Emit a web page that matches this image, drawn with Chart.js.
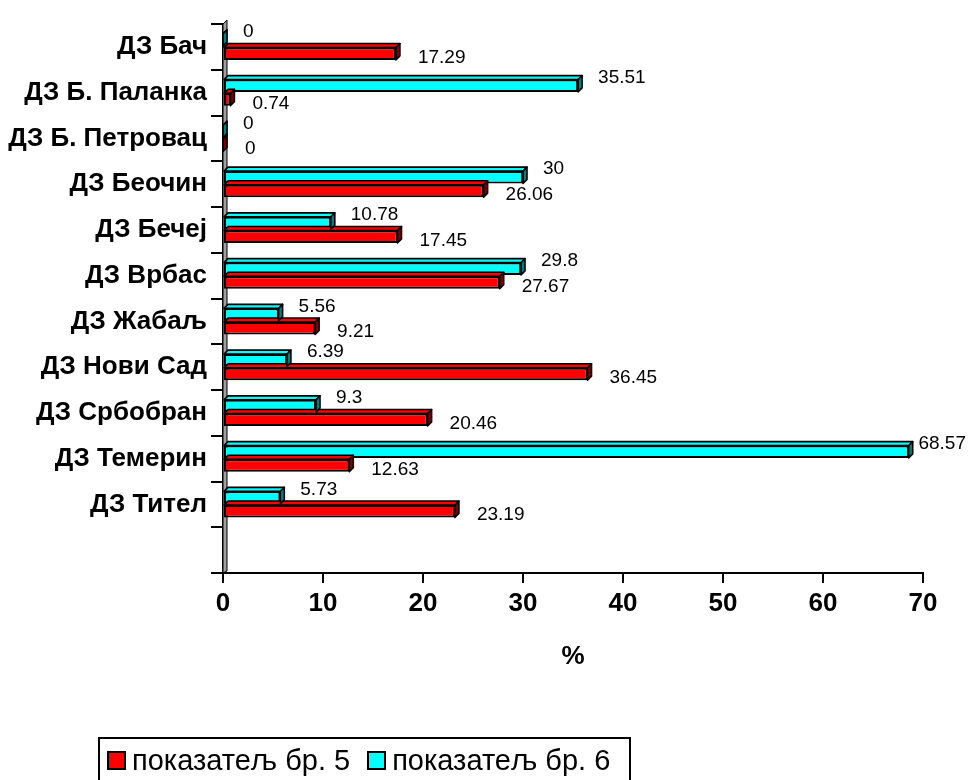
<!DOCTYPE html>
<html>
<head>
<meta charset="utf-8">
<title>Показатељи по домовима здравља</title>
<script src="https://cdn.jsdelivr.net/npm/chart.js@4.4.0/dist/chart.umd.min.js"></script>
<style>
  html, body { margin: 0; padding: 0; background: #fff; }
  #okvir { position: relative; width: 968px; height: 780px; overflow: hidden; }
  #legenda {
    position: absolute; left: 98px; top: 737px; width: 529px; height: 60px;
    border: 2px solid #000; box-sizing: content-box;
    font: 29px Arial, "Liberation Sans", sans-serif; color: #000;
    display: flex; align-items: flex-start;
  }
  #legenda .stavka { display: flex; align-items: center; margin-top: 5px; }
  #legenda .stavka + .stavka { margin-left: 10px; }
  #legenda .kvadrat { width: 15px; height: 15px; border: 2px solid #000; margin: 0 6px 0 7px; }
</style>
</head>
<body>
<div id="okvir">
  <canvas id="grafikon" width="968" height="780"></canvas>
  <div id="legenda"></div>
</div>
<script>
const domovi = ["ДЗ Бач", "ДЗ Б. Паланка", "ДЗ Б. Петровац", "ДЗ Беочин", "ДЗ Бечеј", "ДЗ Врбас",
  "ДЗ Жабаљ", "ДЗ Нови Сад", "ДЗ Србобран", "ДЗ Темерин", "ДЗ Тител", ""];
const pokazatelj5 = [17.29, 0.74, 0, 26.06, 17.45, 27.67, 9.21, 36.45, 20.46, 12.63, 23.19, null];
const pokazatelj6 = [0, 35.51, 0, 30, 10.78, 29.8, 5.56, 6.39, 9.3, 68.57, 5.73, null];
const xPodeoci = [0, 10, 20, 30, 40, 50, 60, 70];

const FONT = 'Arial, "Liberation Sans", sans-serif';
const DUBINA = 4;

// serije: gornja traka je бр. 6, donja бр. 5; legenda ide obrnuto
const serije = [
  { label: "показатељ бр. 6", data: pokazatelj6, boja: "#00ffff", tamna: "#008080", dy: -8, dx: 20 },
  { label: "показатељ бр. 5", data: pokazatelj5, boja: "#ff0000", tamna: "#800000", dy: 4, dx: 22 }
];

// 3D zid uz y osu
const zid = {
  id: "zid",
  beforeDatasetsDraw(chart) {
    const { ctx, chartArea: a } = chart;
    ctx.save();
    ctx.fillStyle = "#a0a0a0";
    ctx.strokeStyle = "#000";
    ctx.lineWidth = 1;
    ctx.beginPath();
    ctx.moveTo(a.left, a.top);
    ctx.lineTo(a.left + DUBINA, a.top - DUBINA);
    ctx.lineTo(a.left + DUBINA, a.bottom - 2);
    ctx.lineTo(a.left, a.bottom);
    ctx.closePath();
    ctx.fill();
    ctx.stroke();
    ctx.restore();
  }
};

// gornja i desna strana traka + natpisi vrednosti
const treciD = {
  id: "treciD",
  afterDatasetsDraw(chart) {
    const ctx = chart.ctx;
    ctx.save();
    ctx.lineWidth = 1.6;
    ctx.strokeStyle = "#000";
    ctx.lineJoin = "round";
    for (let d = chart.data.datasets.length - 1; d >= 0; d--) {
      const s = serije[d];
      chart.getDatasetMeta(d).data.forEach((bar, i) => {
        if (s.data[i] === null) return;
        const { x, y, base, height } = bar.getProps(["x", "y", "base", "height"], true);
        const top = y - height / 2, bot = y + height / 2;
        ctx.fillStyle = s.boja;
        ctx.beginPath();
        ctx.moveTo(base, top);
        ctx.lineTo(base + DUBINA, top - DUBINA);
        ctx.lineTo(x + DUBINA, top - DUBINA);
        ctx.lineTo(x, top);
        ctx.closePath();
        ctx.fill(); ctx.stroke();
        ctx.fillStyle = s.tamna;
        ctx.beginPath();
        ctx.moveTo(x, top);
        ctx.lineTo(x + DUBINA, top - DUBINA);
        ctx.lineTo(x + DUBINA, bot - DUBINA);
        ctx.lineTo(x, bot);
        ctx.closePath();
        ctx.fill(); ctx.stroke();
      });
    }
    ctx.fillStyle = "#000";
    ctx.font = "19px " + FONT;
    ctx.textAlign = "left";
    ctx.textBaseline = "middle";
    chart.data.datasets.forEach((ds, d) => {
      const s = serije[d];
      chart.getDatasetMeta(d).data.forEach((bar, i) => {
        if (s.data[i] === null) return;
        const txt = String(s.data[i]);
        const w = ctx.measureText(txt).width;
        const lx = Math.min(bar.x + s.dx, chart.width - w - 2);
        ctx.fillText(txt, lx, bar.y + s.dy);
      });
    });
    ctx.restore();
  }
};

new Chart(document.getElementById("grafikon"), {
  type: "bar",
  data: {
    labels: domovi,
    datasets: serije.map(s => ({
      label: s.label,
      data: s.data,
      backgroundColor: s.boja,
      borderColor: "#000",
      borderWidth: 2,
      borderSkipped: false,
      barPercentage: 0.9,
      categoryPercentage: 0.6
    }))
  },
  options: {
    indexAxis: "y",
    responsive: false,
    animation: false,
    layout: { padding: { left: 0, right: 45, top: 24, bottom: 100 } },
    plugins: { legend: { display: false }, tooltip: { enabled: false } },
    scales: {
      x: {
        min: 0, max: 70,
        afterBuildTicks(sc) { sc.ticks = xPodeoci.map(v => ({ value: v })); },
        afterFit(sc) { sc.height = 107; },
        grid: { drawOnChartArea: false, drawTicks: true, tickLength: 10, color: "#000", lineWidth: 2 },
        border: { display: true, color: "#000", width: 2 },
        ticks: { color: "#000", padding: 5, font: { family: FONT, size: 26, weight: "bold" } },
        title: { display: true, text: "%", color: "#000", padding: { top: 0, bottom: 8 },
                 font: { family: FONT, size: 26, weight: "bold" } }
      },
      y: {
        afterFit(sc) { sc.width = 223; },
        grid: { drawOnChartArea: false, drawTicks: true, tickLength: 12, color: "#000", lineWidth: 2, offset: true },
        border: { display: true, color: "#000", width: 2 },
        ticks: { color: "#000", padding: 4, autoSkip: false, font: { family: FONT, size: 26, weight: "bold" } }
      }
    }
  },
  plugins: [zid, treciD]
});

// legenda: бр. 5 prva, бр. 6 druga
const legenda = document.getElementById("legenda");
[serije[1], serije[0]].forEach(s => {
  const st = document.createElement("div");
  st.className = "stavka";
  const kv = document.createElement("span");
  kv.className = "kvadrat";
  kv.style.background = s.boja;
  const t = document.createElement("span");
  t.textContent = s.label;
  st.appendChild(kv);
  st.appendChild(t);
  legenda.appendChild(st);
});
</script>
</body>
</html>
